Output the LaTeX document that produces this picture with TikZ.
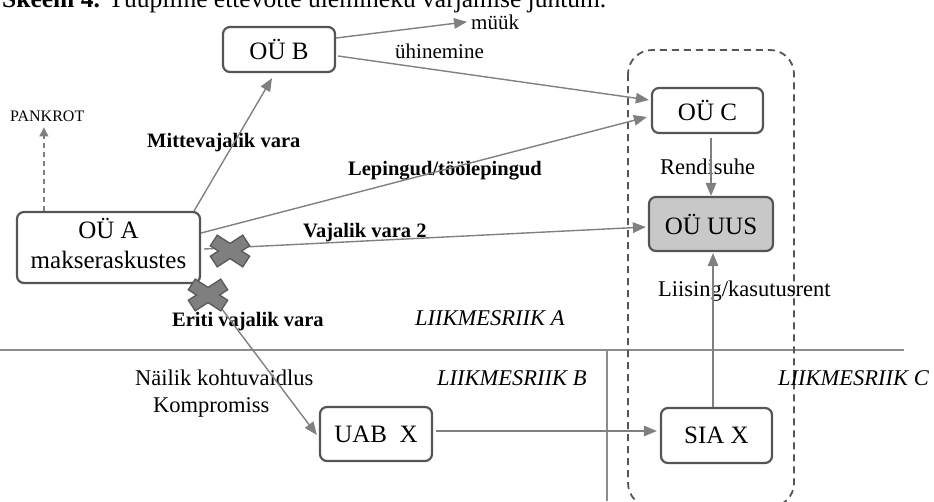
\documentclass[tikz,border=0pt]{standalone}
\usepackage{fontspec}
\setmainfont{Liberation Serif}
\usetikzlibrary{arrows.meta,calc}

\definecolor{linegray}{HTML}{808080}
\definecolor{boxline}{HTML}{555555}
\definecolor{uusfill}{HTML}{C8C8C8}
\definecolor{xfill}{HTML}{7F7F7F}
\definecolor{xborder}{HTML}{5A5A5A}
\definecolor{zoneline}{HTML}{8C8C8C}

\begin{document}
\begin{tikzpicture}[x=1pt,y=-1pt,
  firm/.style={draw=boxline, line width=2.2pt, rounded corners=7pt, fill=white,
    inner sep=0pt, font=\fontsize{25}{30}\selectfont},
  flow/.style={draw=linegray, line width=1.4pt, -{Triangle[length=13pt,width=10.5pt]}},
  link/.style={draw=linegray, line width=1.4pt},
  lbl/.style={anchor=base west, inner sep=0pt, font=\fontsize{22.5}{27}\selectfont},
  boldlbl/.style={anchor=base west, inner sep=0pt, font=\fontsize{20.5}{24}\selectfont\bfseries},
  zonelbl/.style={anchor=base west, inner sep=0pt, font=\fontsize{22.5}{27}\selectfont\itshape},
  crossmark/.pic={
    \foreach \a in {33,-33}
      \draw[xborder, line width=3pt, rotate=\a] (-18.5,-5.5) rectangle (18.5,5.5);
    \foreach \a in {33,-33}
      \fill[xfill, rotate=\a] (-18.5,-5.5) rectangle (18.5,5.5);
  }
]
\useasboundingbox (0,0) rectangle (934,501);

% title line, running off the top edge
\node[anchor=base west, inner sep=0pt, font=\fontsize{25.5}{30}\selectfont] (caption) at (2,7)
  {\textbf{Skeem 4.} Tüüpiline ettevõtte ülemineku varjamise juhtum.};

% member state borders
\coordinate (zl) at (0,350);
\coordinate (zr) at (904,350);
\coordinate (vt) at (607,350);
\coordinate (vb) at (607,501);
\draw[zoneline, line width=1.2pt] (zl) -- (zr);
\draw[zoneline, line width=1.2pt] (vt) -- (vb);

% group around the companies in member state C
\draw[boxline, line width=1.8pt, dash pattern=on 7pt off 5pt, rounded corners=24pt]
  (628,50) rectangle (794,507);

% companies
\node[firm, minimum width=183pt, minimum height=71pt, align=center] (A) at (108.5,247.5)
  {OÜ A\\makseraskustes\strut};
\node[firm, minimum width=112pt, minimum height=45pt] (B) at (279,49.5) {OÜ B};
\node[firm, minimum width=111pt, minimum height=45pt] (C) at (707.5,110.5) {OÜ C};
\node[firm, fill=uusfill, minimum width=124pt, minimum height=54pt] (UUS) at (711,224)
  {OÜ UUS\hspace{14pt}};
\node[firm, minimum width=112pt, minimum height=54pt] (UAB) at (376,434) {UAB\ \ X};
\node[firm, minimum width=111pt, minimum height=55pt] (SIA) at (716.5,435.5) {SIA X};

% labels
\node[lbl, font=\fontsize{16}{19}\selectfont] (pankrot) at (10,121) {PANKROT};
\node[lbl, font=\fontsize{21}{25}\selectfont] (muuk) at (471,29) {müük};
\node[lbl, font=\fontsize{21}{25}\selectfont] (uhin) at (395,58) {ühinemine};
\node[boldlbl] (mitte) at (147,147) {Mittevajalik vara};
\node[boldlbl] (leping) at (348,175) {Lepingud/töölepingud};
\node[boldlbl] (vaj) at (303,237) {Vajalik vara 2};
\node[boldlbl] (eriti) at (172,326) {Eriti vajalik vara};
\node[lbl] (rendi) at (660,174) {Rendisuhe};
\node[lbl] (liising) at (658,296) {Liising/kasutusrent};
\node[lbl] (nailik) at (135,385) {Näilik kohtuvaidlus};
\node[lbl] (komp) at (153,412) {Kompromiss};
\node[zonelbl] (zoneA) at (415,325) {LIIKMESRIIK A};
\node[zonelbl] (zoneB) at (437,385) {LIIKMESRIIK B};
\node[zonelbl] (zoneC) at (778,385) {LIIKMESRIIK C};

% connectors
\coordinate (pk) at ($(A.north west)+(28,0)$);
\draw[draw=linegray, line width=1.2pt, dash pattern=on 5pt off 4pt,
  -{Triangle[length=9pt,width=9pt]}] (pk) -- ($(pk |- pankrot.south)+(0,6)$);

\draw[flow] ($(A.north east)+(-7,0)$) -- ($(B.south)+(-7,5)$);
\draw[flow] ($(B.east)+(0,-11.5)$) -- ($(muuk.west)+(-4,0)$);
\draw[flow] ($(B.east)+(2,6.5)$) -- ($(C.west)+(-2,-10.5)$);
\draw[flow] ($(A.east)+(0,-14.5)$) -- ($(C.west)+(-4,6.5)$);
\draw[flow] ($(A.east)+(3,1.5)$) -- ($(UUS.west)+(-2,3)$);
\draw[flow] ($(A.south east)+(2,0)$) -- ($(UAB.west)+(-2,1)$);

\coordinate (cu) at ($(C.south)+(3.5,4)$);
\draw[flow] (cu) -- (cu |- UUS.north);
\coordinate (us) at ($(UAB.east)+(3,-3)$);
\draw[flow] (us) -- ($(us -| SIA.west)+(-3,0)$);
\coordinate (su) at ($(SIA.north)+(-3.5,0)$);
\draw[flow] (su) -- ($(su |- UUS.south)+(0,1)$);

% blocked transfers
\pic at (230,251) {crossmark};
\pic at (208,295) {crossmark};

\end{tikzpicture}
\end{document}
